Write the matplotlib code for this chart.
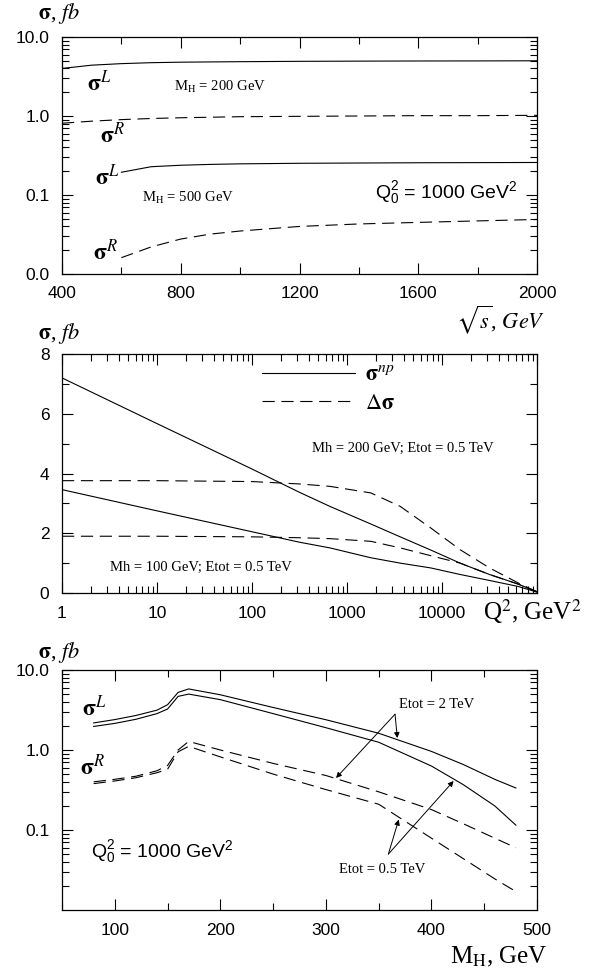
import numpy as np
import matplotlib
matplotlib.use("Agg")
import matplotlib.pyplot as plt
from matplotlib.ticker import FixedLocator, NullFormatter, LogLocator

plt.rcParams['font.family'] = ['Liberation Serif', 'DejaVu Serif']
plt.rcParams['mathtext.fontset'] = 'stix'
plt.rcParams['mathtext.rm'] = 'Liberation Sans'
plt.rcParams['mathtext.it'] = 'Liberation Sans:italic'

# --- panel 1: sigma vs sqrt(s) ---
sqrt_s = [400, 500, 600, 700, 800, 1000, 1200, 1400, 1600, 1800, 2000]
sigL_200 = [4.0, 4.4, 4.6, 4.73, 4.8, 4.87, 4.92, 4.95, 4.97, 4.98, 5.0]
sigR_200 = [0.81, 0.86, 0.9, 0.93, 0.95, 0.98, 0.99, 1.0, 1.01, 1.01, 1.02]
sqrt_s_500 = [600, 700, 800, 900, 1000, 1200, 1400, 1600, 1800, 2000]
sigL_500 = [0.194, 0.228, 0.238, 0.244, 0.248, 0.252, 0.254, 0.256, 0.257, 0.258]
sigR_500 = [0.0161, 0.022, 0.0277, 0.032, 0.035, 0.040, 0.043, 0.045, 0.047, 0.049]

# --- panel 2: sigma vs Q^2 ---
q2 = [1, 10, 100, 316, 660, 1780, 3630, 7590, 15500, 31600, 63100, 100000]
snp_200 = [7.2, 5.67, 4.15, 3.37, 2.90, 2.31, 1.88, 1.44, 1.0, 0.62, 0.3, 0.04]
dsig_200 = [3.76, 3.76, 3.73, 3.65, 3.57, 3.35, 2.90, 2.18, 1.45, 0.84, 0.34, 0.04]
snp_100 = [3.46, 2.75, 2.05, 1.70, 1.51, 1.18, 1.0, 0.84, 0.62, 0.42, 0.22, 0.03]
dsig_100 = [1.90, 1.90, 1.88, 1.85, 1.82, 1.73, 1.51, 1.25, 1.0, 0.62, 0.3, 0.04]

# --- panel 3: sigma vs M_H ---
mh = [80, 100, 120, 140, 150, 160, 170, 200, 250, 300, 350, 400, 430, 460, 480]
sL_2 = [2.18, 2.4, 2.7, 3.15, 3.68, 5.25, 5.8, 4.9, 3.4, 2.39, 1.62, 0.96, 0.66, 0.43, 0.335]
sL_05 = [1.97, 2.15, 2.42, 2.85, 3.25, 4.68, 5.0, 4.26, 2.85, 1.9, 1.25, 0.63, 0.37, 0.2, 0.115]
sR_2 = [0.40, 0.43, 0.47, 0.55, 0.64, 1.0, 1.28, 1.0, 0.68, 0.48, 0.30, 0.18, 0.12, 0.079, 0.06]
sR_05 = [0.38, 0.41, 0.45, 0.52, 0.575, 0.95, 1.11, 0.82, 0.5, 0.32, 0.21, 0.079, 0.044, 0.0245, 0.017]

LW = 0.8
DASH = (0, (11, 6))
TICKFONT = dict(family='Liberation Sans', size=12.5)
SIG_L = r'$\mathbf{\sigma}^{L}$'
SIG_R = r'$\mathbf{\sigma}^{R}$'
Q0 = r'$\mathrm{Q}_0^2$ = 1000 GeV$^2$'


def style(ax):
    ax.tick_params(which='both', direction='in', top=True, right=True,
                   pad=9, width=0.8)
    ax.tick_params(which='major', length=8)
    ax.tick_params(which='minor', length=5)
    for lab in ax.get_xticklabels() + ax.get_yticklabels():
        lab.set_fontfamily(TICKFONT['family'])
        lab.set_fontsize(TICKFONT['size'])
    for s in ax.spines.values():
        s.set_linewidth(0.9)


fig = plt.figure(figsize=(5.94, 9.72), dpi=100)
W, H = 594, 972


def add_axes(top, bottom):
    return fig.add_axes([62 / W, 1 - bottom / H, 475 / W, (bottom - top) / H])


sig_lab = dict(fontsize=17)

# ---------------- top ----------------
ax1 = add_axes(37, 274)
ax1.plot(sqrt_s, sigL_200, 'k-', lw=LW)
ax1.plot(sqrt_s, sigR_200, 'k', ls=DASH, lw=LW)
ax1.plot(sqrt_s_500, sigL_500, 'k-', lw=LW)
ax1.plot(sqrt_s_500, sigR_500, 'k', ls=DASH, lw=LW)
ax1.set_yscale('log')
ax1.set_xlim(400, 2000)
ax1.set_ylim(0.01, 10)
ax1.set_xticks([400, 800, 1200, 1600, 2000])
ax1.xaxis.set_minor_locator(FixedLocator(np.arange(400, 2001, 200)))
ax1.set_yticks([0.01, 0.1, 1, 10], ['0.0', '0.1', '1.0', '10.0'])
ax1.yaxis.set_minor_locator(LogLocator(subs=np.arange(2, 10)))
ax1.yaxis.set_minor_formatter(NullFormatter())
style(ax1)
ax1.text(485, 2.62, SIG_L, va='center', **sig_lab)
ax1.text(529, 0.575, SIG_R, va='center', **sig_lab)
ax1.text(512, 0.169, SIG_L, va='center', **sig_lab)
ax1.text(506, 0.0185, SIG_R, va='center', **sig_lab)
ax1.text(776, 2.33, r'M$_\mathrm{H}$ = 200 GeV', va='center', fontsize=10.5)
ax1.text(671, 0.0917, r'M$_\mathrm{H}$ = 500 GeV', va='center', fontsize=10.5)
ax1.text(1936, 0.106, Q0, ha='right', va='center',
         fontsize=14, family='Liberation Sans', math_fontfamily='custom')
fig.text(38 / W, 1 - 13 / H, r'$\mathbf{\sigma}$, $fb$', fontsize=16, va='center')
fig.text(545 / W, 1 - 320 / H, r'$\sqrt{s}$, $GeV$', fontsize=16, va='center', ha='right')

# ---------------- middle ----------------
ax2 = add_axes(354, 593)
ax2.plot(q2, snp_200, 'k-', lw=LW, label=r'$\mathbf{\sigma}^{np}$')
ax2.plot(q2, dsig_200, 'k', ls=DASH, lw=LW, label=r'$\Delta\mathbf{\sigma}$')
ax2.plot(q2, snp_100, 'k-', lw=LW)
ax2.plot(q2, dsig_100, 'k', ls=DASH, lw=LW)
ax2.set_xscale('log')
ax2.set_xlim(1, 1e5)
ax2.set_ylim(0, 8)
ax2.set_xticks([1, 10, 100, 1000, 10000, 100000], ['1', '10', '100', '1000', '10000', ''])
ax2.xaxis.set_minor_locator(LogLocator(subs=np.arange(2, 10)))
ax2.xaxis.set_minor_formatter(NullFormatter())
ax2.set_yticks([0, 2, 4, 6, 8])
ax2.yaxis.set_minor_locator(FixedLocator([1, 3, 5, 7]))
style(ax2)
ax2.legend(loc='upper left', bbox_to_anchor=(0.421, 0.955), frameon=False,
           fontsize=16, handlelength=4.2, handletextpad=0.45, labelspacing=0.35,
           borderpad=0, borderaxespad=0)
ax2.text(431, 4.83, 'Mh = 200 GeV; Etot = 0.5 TeV', va='center', fontsize=10.5)
ax2.text(3.23, 0.85, 'Mh = 100 GeV; Etot = 0.5 TeV', va='center', fontsize=10.5)
fig.text(38 / W, 1 - 333 / H, r'$\mathbf{\sigma}$, $fb$', fontsize=16, va='center')
fig.text(582 / W, 1 - 612 / H, r'Q$^2$, GeV$^2$', fontsize=18, va='center', ha='right')

# ---------------- bottom ----------------
ax3 = add_axes(670, 910)
ax3.plot(mh, sL_2, 'k-', lw=LW)
ax3.plot(mh, sL_05, 'k-', lw=LW)
ax3.plot(mh, sR_2, 'k', ls=DASH, lw=LW)
ax3.plot(mh, sR_05, 'k', ls=DASH, lw=LW)
ax3.set_yscale('log')
ax3.set_xlim(50, 500)
ax3.set_ylim(0.01, 10)
ax3.set_xticks([100, 200, 300, 400, 500])
ax3.xaxis.set_minor_locator(FixedLocator(np.arange(50, 501, 50)))
ax3.set_yticks([0.1, 1, 10], ['0.1', '1.0', '10.0'])
ax3.yaxis.set_minor_locator(LogLocator(subs=np.arange(2, 10)))
ax3.yaxis.set_minor_formatter(NullFormatter())
style(ax3)
ax3.text(69, 3.28, SIG_L, va='center', **sig_lab)
ax3.text(67.5, 0.6, SIG_R, va='center', **sig_lab)
ax3.text(77, 0.054, Q0, va='center',
         fontsize=14, family='Liberation Sans', math_fontfamily='custom')

arrow = dict(arrowstyle='-|>', lw=0.7, color='k', mutation_scale=8,
             shrinkA=0, shrinkB=0)
ax3.text(369, 3.7, 'Etot = 2 TeV', va='center', fontsize=10.5)
for tx, ty in [(309.6, 0.447), (367.7, 1.41)]:
    ax3.annotate('', xy=(tx, ty), xytext=(365.5, 2.8), arrowprops=arrow)
ax3.text(312.7, 0.0317, 'Etot = 0.5 TeV', va='center', fontsize=10.5)
for tx, ty in [(369, 0.135), (421, 0.41)]:
    ax3.annotate('', xy=(tx, ty), xytext=(359.2, 0.05), arrowprops=arrow)
fig.text(38 / W, 1 - 652 / H, r'$\mathbf{\sigma}$, $fb$', fontsize=16, va='center')
fig.text(548 / W, 1 - 957 / H, r'M$_\mathrm{H}$, GeV', fontsize=18, va='center', ha='right')

fig.savefig('out.png', dpi=100)
